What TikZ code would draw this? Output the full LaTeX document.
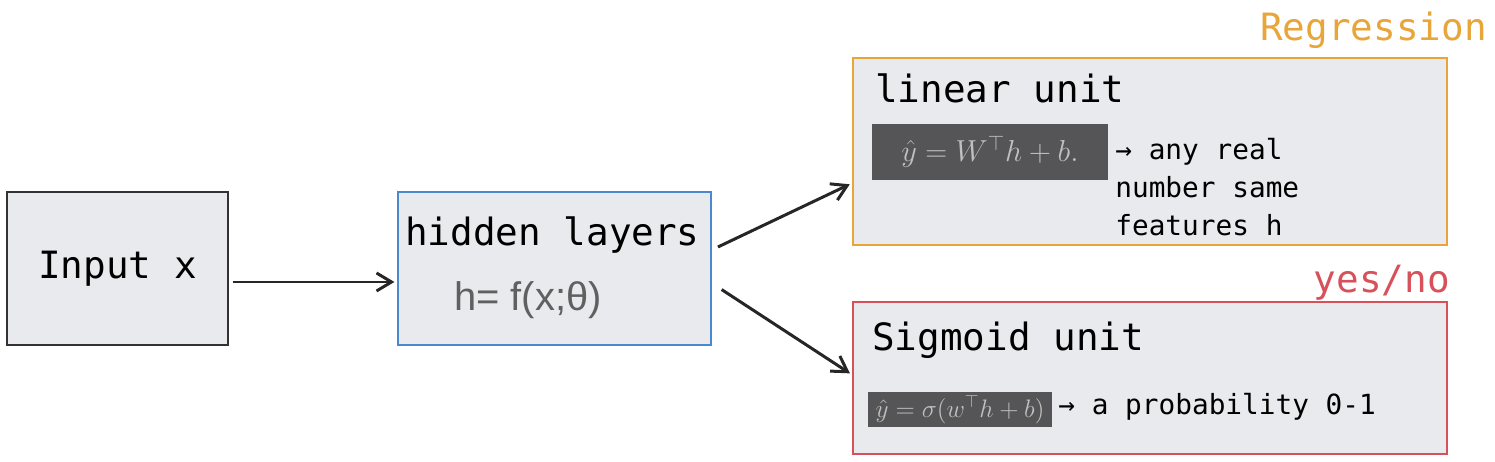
\documentclass[tikz,border=0pt]{standalone}
\usepackage{fontspec}
\setmonofont{DejaVu Sans Mono}
\newfontfamily\formsans{Liberation Sans}
\usetikzlibrary{arrows.meta}

\definecolor{boxfill}{RGB}{233,234,238}
\definecolor{inputcol}{RGB}{50,50,50}
\definecolor{hiddencol}{RGB}{74,137,206}
\definecolor{linearcol}{RGB}{232,165,58}
\definecolor{sigmoidcol}{RGB}{216,80,90}
\definecolor{formfill}{RGB}{85,85,87}
\definecolor{formtext}{RGB}{192,192,192}
\definecolor{htext}{RGB}{96,96,96}

\tikzset{
  unit/.style={draw, fill=boxfill, line width=0.7pt, inner sep=0pt},
  bigtxt/.style={font=\ttfamily\fontsize{21.4}{25}\selectfont, inner sep=0pt},
  smalltxt/.style={font=\ttfamily\fontsize{15.8}{21.5}\selectfont, inner sep=0pt, align=left},
  formula/.style={fill=formfill, text=formtext, inner sep=0pt},
  arr/.style={-{Straight Barb[length=0.3cm, width=0.36cm]}, line width=1.7pt, draw=black!85}
}

\begin{document}
\begin{tikzpicture}[x=0.02cm, y=-0.02cm]
  \useasboundingbox (0,0) rectangle (1495,462);

  \node[unit, draw=inputcol, minimum width=4.42cm, minimum height=3.06cm, bigtxt] (input) at (117.5,268.5) {Input x};
  \node[unit, draw=hiddencol, minimum width=6.26cm, minimum height=3.06cm] (hidden) at (554.5,268.5) {};
  \node[unit, draw=linearcol, minimum width=11.88cm, minimum height=3.74cm] (linear) at (1150,151.5) {};
  \node[unit, draw=sigmoidcol, minimum width=11.88cm, minimum height=3.04cm] (sigmoid) at (1150,378) {};

  \node[bigtxt, anchor=west] (hiddentitle) at (405,235) {hidden layers};
  \node[inner sep=0pt, text=htext, font=\formsans\fontsize{22.7}{26}\selectfont] (hiddenform) at (528,300) {h= f(x;θ)};

  \node[bigtxt, anchor=west] (lineartitle) at (875,88) {linear unit};
  \node[formula, minimum width=4.72cm, minimum height=1.12cm, font=\fontsize{18.4}{22}\selectfont] (linearform) at (990,152) {$\hat{y} = W^{\top}h + b.$};
  \node[smalltxt, anchor=west] (linearnote) at (1115,187) {→ any real\\number same\\features h};

  \node[bigtxt, anchor=west] (sigmoidtitle) at (872,340) {Sigmoid unit};
  \node[formula, minimum width=3.68cm, minimum height=0.7cm, font=\fontsize{14.9}{18}\selectfont] (sigmoidform) at (960,409.5) {$\hat{y} = \sigma(w^{\top}h + b)$};
  \node[smalltxt, anchor=west] (sigmoidnote) at (1058,407) {→ a probability 0-1};

  \node[bigtxt, text=linearcol, anchor=east] (regression) at (1487,30) {Regression};
  \node[bigtxt, text=sigmoidcol, anchor=east] (yesno) at (1450,283) {yes/no};

  \draw[arr, shorten <=0.08cm, shorten >=0.06cm] ([yshift=-0.27cm]input.east) -- ([yshift=-0.27cm]hidden.west);
  \draw[arr, shorten <=0.14cm, shorten >=0.06cm] ([yshift=0.37cm]hidden.east) -- ([yshift=-0.63cm]linear.west);
  \draw[arr, shorten <=0.24cm, shorten >=0.06cm] ([yshift=-0.29cm]hidden.east) -- ([yshift=0.06cm]sigmoid.west);
\end{tikzpicture}
\end{document}
